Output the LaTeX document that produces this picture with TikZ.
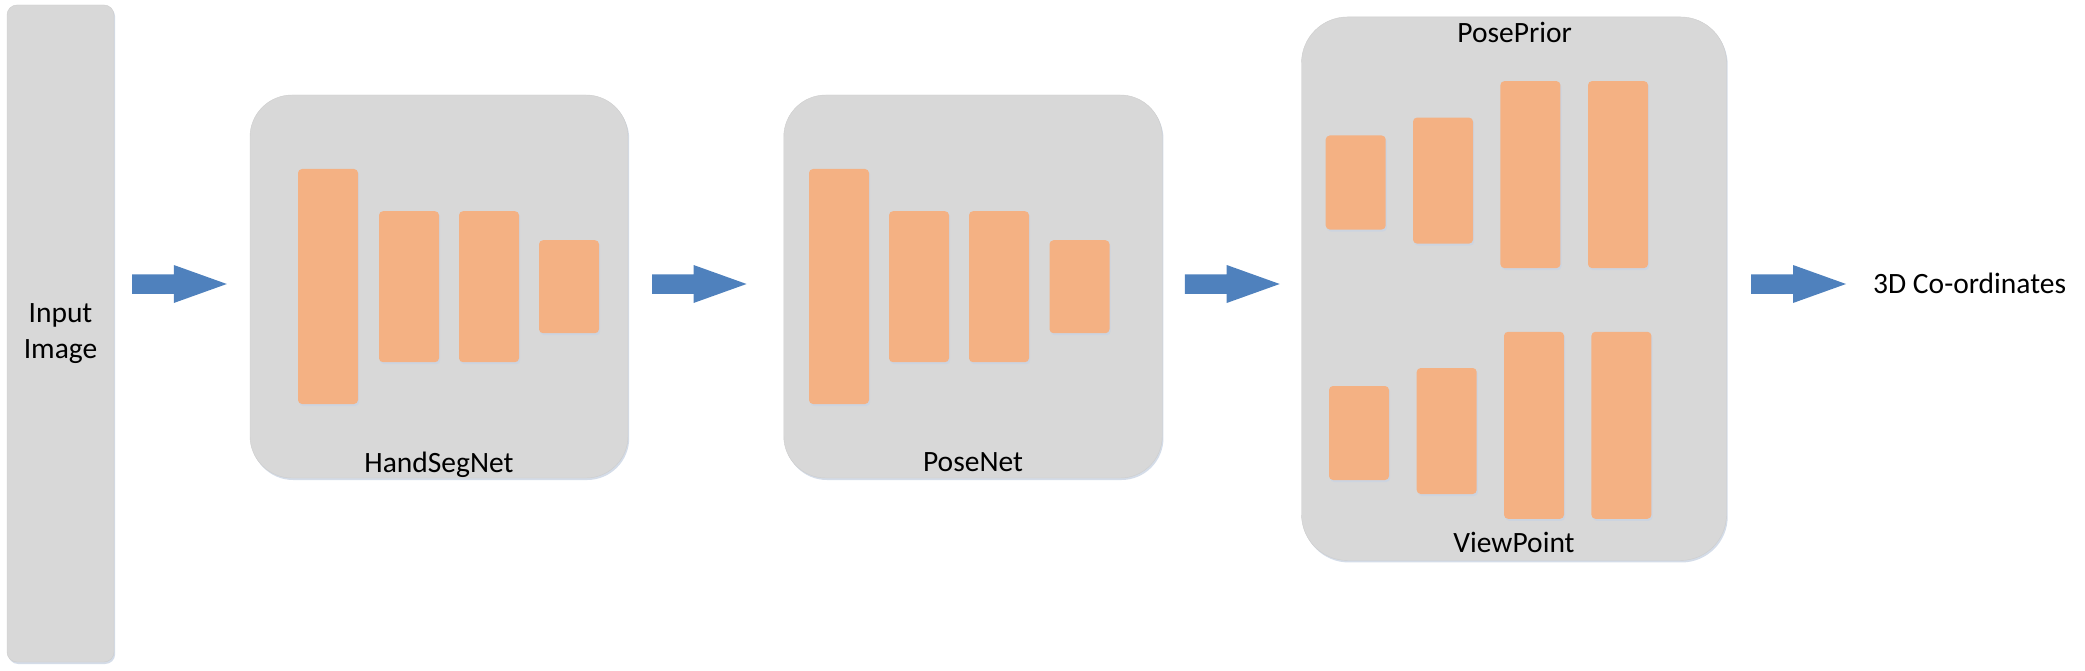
\documentclass[tikz,border=0pt]{standalone}
\usepackage{fontspec}
\setmainfont{Carlito}
\usetikzlibrary{calc,shadows}
\definecolor{boxgrey}{HTML}{D8D8D8}
\definecolor{barorange}{HTML}{F4B183}
\definecolor{arrowblue}{HTML}{4F81BD}
\definecolor{shadowc}{HTML}{C9D3E2}
\newcommand{\blkarrow}[2]{%
  \fill[arrowblue] ($(#1)+(0,-9.75)$) -- ($(#2)+(-53,-9.75)$) -- ($(#2)+(-53,-19)$)
    -- (#2) -- ($(#2)+(-53,19)$) -- ($(#2)+(-53,9.75)$) -- ($(#1)+(0,9.75)$) -- cycle;}
\begin{document}
\begin{tikzpicture}[x=1pt,y=-1pt,
  softshadow/.style={drop shadow={shadow xshift=1.2pt,shadow yshift=-2pt,fill=shadowc,opacity=0.8}},
  panel/.style={rectangle,rounded corners=42pt,fill=boxgrey,draw=boxgrey!95!black,line width=0.4pt,inner sep=0pt,softshadow},
  bar/.style={rectangle,rounded corners=4pt,fill=barorange,inner sep=0pt,minimum width=60pt,softshadow},
  lbl/.style={inner sep=0pt,font=\fontsize{29.5}{36}\selectfont}]
\useasboundingbox (0,0) rectangle (2085,671);
% input
\node[panel,rounded corners=10pt,minimum width=107pt,minimum height=657pt,
      lbl,align=center] (input) at (60.5,333.5) {Input\\Image};
% HandSegNet
\node[panel,minimum width=378pt,minimum height=383pt] (hsn) at (439,286.5) {};
\node[bar,minimum height=235pt] (h1) at (328,286.5) {};
\node[bar,minimum height=151pt] (h2) at (409,286.7) {};
\node[bar,minimum height=151pt] (h3) at (489,286.7) {};
\node[bar,minimum height=93pt] (h4) at (569,286.7) {};
\node[lbl,anchor=base] (hsnlbl) at (439,472) {HandSegNet};
% PoseNet
\node[panel,minimum width=378.5pt,minimum height=383pt] (pn) at (973,286.5) {};
\node[bar,minimum height=235pt] (p1) at (839,286.5) {};
\node[bar,minimum height=151pt] (p2) at (919,286.7) {};
\node[bar,minimum height=151pt] (p3) at (999,286.7) {};
\node[bar,minimum height=93pt] (p4) at (1079.5,286.7) {};
\node[lbl,anchor=base] (pnlbl) at (973,471) {PoseNet};
% PosePrior / ViewPoint
\node[panel,rounded corners=46pt,minimum width=425pt,minimum height=543.5pt] (pp) at (1514,288.7) {};
\node[bar,minimum height=94pt] (t1) at (1355.7,182.5) {};
\node[bar,minimum height=126pt] (t2) at (1443,180.6) {};
\node[bar,minimum height=187pt] (t3) at (1530.4,174.6) {};
\node[bar,minimum height=187pt] (t4) at (1618,174.6) {};
\node[bar,minimum height=94pt] (u1) at (1359,433) {};
\node[bar,minimum height=126pt] (u2) at (1446.7,431) {};
\node[bar,minimum height=187pt] (u3) at (1534,425.3) {};
\node[bar,minimum height=187pt] (u4) at (1621.4,425.3) {};
\node[lbl,anchor=base] (pplbl) at (1514.6,43) {PosePrior};
\node[lbl,anchor=base] (vplbl) at (1514,552) {ViewPoint};
% output
\node[lbl,anchor=base west] (out) at (1873,293) {3D Co-ordinates};
% arrows
\coordinate (ay) at (0,284);
\coordinate (a1s) at ($(input.east |- ay)+(18,0)$);
\coordinate (a1e) at ($(hsn.west |- ay)+(-23,0)$);
\coordinate (a2s) at ($(hsn.east |- ay)+(24,0)$);
\coordinate (a2e) at ($(pn.west |- ay)+(-37,0)$);
\coordinate (a3s) at ($(pn.east |- ay)+(22.5,0)$);
\coordinate (a3e) at ($(pp.west |- ay)+(-21.6,0)$);
\coordinate (a4s) at ($(pp.east |- ay)+(24.4,0)$);
\coordinate (a4e) at ($(out.west |- ay)+(-27,0)$);
\blkarrow{a1s}{a1e}
\blkarrow{a2s}{a2e}
\blkarrow{a3s}{a3e}
\blkarrow{a4s}{a4e}
\end{tikzpicture}
\end{document}
